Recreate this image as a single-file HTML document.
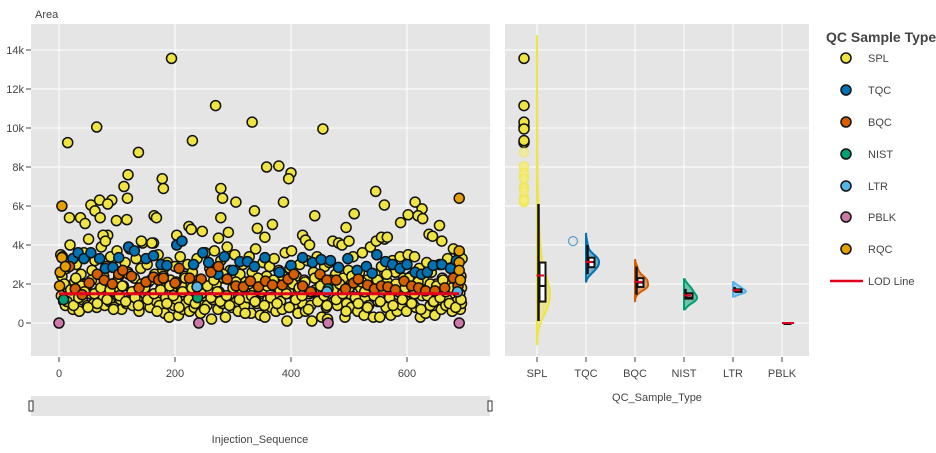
<!DOCTYPE html>
<html><head><meta charset="utf-8"><style>
html,body{margin:0;padding:0;background:#fff;}
svg{display:block;font-family:"Liberation Sans","DejaVu Sans",sans-serif;}
text{fill:#444;font-size:11px;}
</style></head><body>
<svg id="chart" width="936" height="453" xmlns="http://www.w3.org/2000/svg">
<rect x="0" y="0" width="936" height="453" fill="#fff"/>
<rect x="31" y="24" width="459" height="332" fill="#e5e5e5"/>
<rect x="505" y="24" width="304" height="332" fill="#e5e5e5"/>
<g id="grid"></g>
<g id="axes"></g>
<g id="scatter"></g>
<g id="violins"></g>
<text x="35" y="18" font-size="12">Area</text>
<text x="260" y="443" text-anchor="middle">Injection_Sequence</text>
<text x="657" y="401" text-anchor="middle">QC_Sample_Type</text>
<rect x="31" y="396" width="459" height="20" fill="#e5e5e5"/>
<rect x="29" y="401" width="4" height="10" fill="#fff" stroke="#333" stroke-width="1"/>
<rect x="488" y="401" width="4" height="10" fill="#fff" stroke="#333" stroke-width="1"/>
<g id="legend">
<text x="826" y="42" font-size="14" font-weight="bold" style="fill:#444;font-size:14px">QC Sample Type</text>
</g>
</svg>
<script>
const NS="http://www.w3.org/2000/svg";
const categories=["SPL","TQC","BQC","NIST","LTR","PBLK","RQC"];
const colors=["#f0e442","#0072b2","#d55e00","#009e73","#56b4e9","#cc79a7","#e69f00"];
const yTicks=[0,2,4,6,8,10,12,14];
const yTickLabels=["0","2k","4k","6k","8k","10k","12k","14k"];
const xTicks=[0,200,400,600];
const lodValue=1.5;
const lodRange=[0,690];
const splX=[3,5,8,11,13,16,19,21,24,27,30,32,35,38,40,43,46,49,51,54,
57,60,62,65,68,70,73,76,79,81,84,87,89,92,95,97,100,103,106,108,
111,114,116,119,122,125,127,130,133,135,138,141,144,146,149,152,154,157,160,163,
165,168,171,173,176,179,182,184,187,190,192,195,198,200,203,206,209,211,214,217,
219,222,225,227,230,233,236,238,241,244,246,249,252,255,257,260,263,265,268,271,
274,276,279,282,284,287,290,293,295,298,301,303,306,309,312,314,317,320,322,325,
328,331,333,336,339,341,344,347,350,352,355,358,360,363,366,369,371,374,377,379,
382,385,388,390,393,396,398,401,404,407,409,412,415,417,420,423,425,428,431,434,
436,439,442,445,447,450,453,455,458,461,463,466,469,472,474,477,480,482,485,488,
490,493,496,499,501,504,507,510,512,515,518,520,523,526,528,531,534,537,539,542,
545,547,550,553,556,558,561,564,566,569,572,575,577,580,583,585,588,591,594,596,
599,602,604,607,610,613,615,618,621,623,626,629,632,634,637,640,642,645,648,651,
653,656,659,661,664,667,670,672,675,678,680,683,686,688,690,692,693,694,694,695,
194,15,65,270,230,333,455,137,119,112,118,178,180,358,379,400,396,279,282,305,387,337,546,561,614,626,
18,37,45,55,70,91,84,62,71,99,117,164,168,279,203,224,228,247,275,292,342,368,355,441,495,509,589,602,619,627,656,638,644,660,76,80,142,160,420,425,432,556,566,500,
4,9,14,20,25,29,34,39,44,50,56,61,66,72,77,83,88,94,99,104,
109,115,120,126,131,137,142,148,153,158,164,169,175,180,186,191,197,202,207,213,
218,224,229,235,240,245,251,256,262,267,273,278,283,289,294,300,305,311,316,321,
327,332,338,343,349,354,359,365,370,376,381,386,392,397,403,408,414,419,424,430,
435,441,446,451,457,462,468,473,478,484,489,495,500,505,511,516,522,527,532,538,
543,549,554,559,565,570,576,581,586,592,597,603,608,613,619,624,630,635,640,646,
651,657,662,667,673,678,684,689,691,693];
const splY=[3.5,2.4,1.1,0.9,2.8,1.6,4.0,1.3,0.7,2.1,3.0,1.8,0.6,2.5,1.2,3.6,2.0,0.9,4.3,1.5,
2.7,1.0,3.2,0.8,2.2,1.7,3.9,1.4,0.9,2.9,4.5,1.1,3.4,2.0,0.8,1.6,3.7,2.4,1.2,0.7,
1.9,3.1,1.0,2.6,3.8,1.5,0.9,2.3,3.3,1.2,0.6,2.8,4.1,1.7,1.0,3.0,2.1,0.8,1.4,4.1,
2.5,1.1,3.5,0.9,1.8,2.7,0.5,1.3,3.1,0.3,2.2,1.6,0.9,2.9,1.2,0.4,3.4,1.9,0.7,2.4,
1.0,3.0,0.6,1.5,2.6,0.8,1.9,3.3,1.1,0.5,2.1,1.4,3.6,0.9,1.7,2.8,0.2,1.2,3.7,2.0,
0.7,1.6,3.2,1.0,2.3,0.3,3.9,1.4,2.7,0.8,1.9,3.5,1.1,0.6,2.5,1.7,3.0,0.9,2.1,1.3,
3.4,0.5,2.6,1.8,3.8,1.0,2.2,0.4,1.5,3.1,0.3,2.4,1.2,2.9,0.8,1.9,3.3,0.6,1.4,2.7,
1.1,0.7,2.0,3.6,0.1,1.6,2.8,3.7,0.9,1.3,2.4,0.5,3.0,1.8,1.0,2.2,0.6,3.2,1.5,0.9,
0.1,2.6,1.7,3.4,1.2,2.0,0.3,1.5,2.9,0.8,0.2,3.1,1.9,4.2,1.1,2.5,0.9,4.1,1.6,4.0,
2.3,0.3,1.0,2.7,1.5,0.8,3.4,2.0,1.2,0.6,2.6,1.8,3.6,0.4,1.3,2.2,0.9,3.9,1.6,0.3,
2.5,4.2,1.1,0.3,2.9,1.7,4.3,0.8,2.1,1.4,0.4,3.2,1.0,2.6,0.6,1.8,3.4,0.9,2.3,1.2,
0.6,3.5,1.6,2.4,1.0,3.4,0.8,1.9,2.8,0.3,1.4,2.2,0.5,3.1,1.7,0.9,2.6,1.1,0.4,2.0,
1.3,3.0,0.7,2.3,1.6,0.9,3.3,1.2,2.0,0.6,3.8,1.5,1.1,2.6,3.6,0.7,2.4,1.0,1.8,3.3,
13.57,9.25,10.05,11.15,9.35,10.3,9.95,8.75,7.6,7.0,6.4,7.4,6.9,8.0,8.05,7.7,7.4,6.9,6.4,6.2,6.2,5.75,6.75,6.05,6.2,5.85,
5.4,5.4,5.1,6.05,6.3,6.3,6.1,5.75,5.4,5.25,5.3,5.5,5.4,5.4,4.5,4.95,4.8,4.7,4.35,4.65,4.85,5.05,4.4,5.5,4.9,5.6,5.15,5.55,5.5,5.35,5.0,4.55,4.45,4.2,4.5,4.2,4.2,4.1,4.5,4.25,4.0,4.4,4.4,4.2,
1.4,2.0,1.1,1.7,0.9,2.3,1.3,1.9,1.6,0.8,2.2,1.5,1.0,1.8,2.4,1.2,1.7,0.7,2.1,1.4,
1.9,1.1,2.5,1.6,1.3,0.9,2.0,1.8,1.2,2.2,1.5,0.6,1.7,2.4,1.0,1.9,1.4,2.1,0.8,1.6,
2.3,1.2,1.8,1.0,2.0,1.5,0.7,1.9,1.3,2.2,1.6,1.1,2.5,1.4,0.9,1.8,2.1,1.2,1.7,0.5,
2.0,1.4,1.1,2.3,1.6,0.9,1.9,1.3,2.2,1.0,1.7,2.4,1.5,0.8,2.0,1.2,1.8,1.4,2.1,0.7,
1.6,2.3,1.1,1.9,1.4,0.9,2.2,1.7,1.2,2.0,1.5,0.6,1.8,2.4,1.3,1.0,2.1,1.6,0.8,1.9,
1.4,2.2,1.1,1.7,2.5,1.3,0.9,2.0,1.6,1.2,1.8,2.3,1.0,1.5,2.1,0.7,1.7,1.4,2.0,1.1,
1.9,1.3,2.2,1.6,1.0,1.8,0.8,2.1,1.5,1.2];
const tqcX=[6,24,33,43,55,70,80,93,103,120,130,150,163,176,186,203,212,232,248,258,274,285,300,312,325,337,355,380,400,420,437,452,468,482,498,514,530,540,548,563,575,588,600,614,625,635,645,660,675,685];
const tqcY=[3.4,3.3,3.6,3.3,3.6,3.3,2.8,2.85,3.35,3.9,3.7,3.3,3.45,3.0,2.95,4.0,4.2,3.0,3.6,3.1,2.5,3.4,2.7,3.15,3.15,2.9,3.35,2.6,2.95,3.35,3.1,3.25,3.2,2.85,3.3,2.7,2.9,2.55,3.5,3.15,3.0,2.8,3.0,2.6,2.5,2.6,2.95,3.0,2.8,3.2];
const bqcX=[18,28,40,52,66,78,92,103,110,125,138,150,163,172,180,200,207,225,245,262,275,290,305,318,330,344,356,368,385,395,405,420,434,450,462,478,494,508,516,532,544,556,567,580,595,608,620,632,648,665,680,688];
const bqcY=[2.9,1.75,1.45,2.05,2.5,2.2,2.0,2.5,2.7,2.4,1.8,2.1,2.35,2.2,2.3,2.05,2.8,2.3,2.25,2.6,2.9,2.25,1.9,1.85,2.15,1.85,2.15,1.95,1.95,2.25,2.5,1.9,1.6,2.5,2.2,2.2,1.75,2.05,2.25,1.95,1.75,1.9,1.85,1.7,2.15,1.9,1.8,1.65,1.65,1.8,2.3,1.9];
const nistX=[8,239,464];
const nistY=[1.2,1.3,1.75];
const ltrX=[238,462,687];
const ltrY=[1.85,1.6,1.6];
const pblkX=[0,241,464,690];
const pblkY=[0,0,0,0];
const rqcX=[5,5,2,1,11,690,690,690,690,692];
const rqcY=[6.0,3.35,2.6,1.9,2.9,6.4,3.7,3.1,2.7,2.2];

const seriesX=[splX,tqcX,bqcX,nistX,ltrX,pblkX,rqcX];
const seriesY=[splY,tqcY,bqcY,nistY,ltrY,pblkY,rqcY];

function yS(v){return 323-v*19.5;}
function xS(v){return 59+v*0.58;}
function cS(i){return 537+i*49;}

function mk(tag,attrs,parent){const e=document.createElementNS(NS,tag);for(const k in attrs)e.setAttribute(k,attrs[k]);parent.appendChild(e);return e;}
const grid=document.getElementById('grid'),axes=document.getElementById('axes');
yTicks.forEach((t,i)=>{
  const g1=mk('line',{x1:31,x2:490,y1:yS(t),y2:yS(t),stroke:'#fff','stroke-width':1},grid);
  
  
  const g2=mk('line',{x1:505,x2:809,y1:yS(t),y2:yS(t),stroke:'#fff','stroke-width':1},grid);
  
  
  const tk=mk('line',{x1:26,x2:31,y1:yS(t),y2:yS(t),stroke:'#444','stroke-width':1},axes);
  
  
  const tl=mk('text',{x:24,y:yS(t)+4,'text-anchor':'end'},axes);
  tl.textContent=yTickLabels[i];
  
  
});
xTicks.forEach(t=>{
  const g=mk('line',{x1:xS(t),x2:xS(t),y1:24,y2:356,stroke:'#fff','stroke-width':1},grid);
  
  
  const tk=mk('line',{x1:xS(t),x2:xS(t),y1:357,y2:362,stroke:'#444','stroke-width':1},axes);
  
  
  const tl=mk('text',{x:xS(t),y:377,'text-anchor':'middle'},axes);
  tl.textContent=String(t);
  
  
});
categories.slice(0,6).forEach((c,i)=>{
  const g=mk('line',{x1:cS(i),x2:cS(i),y1:24,y2:356,stroke:'#fff','stroke-width':1},grid);
  
  
  const tk=mk('line',{x1:cS(i),x2:cS(i),y1:357,y2:362,stroke:'#444','stroke-width':1},axes);
  
  
  const tl=mk('text',{x:cS(i),y:377,'text-anchor':'middle'},axes);
  tl.textContent=c;
  
  
});

const sc=document.getElementById('scatter');
seriesX.forEach((xs,s)=>{
  xs.forEach((x,j)=>{
    const c=mk('circle',{cx:xS(x),cy:yS(seriesY[s][j]),r:5,fill:colors[s],stroke:'#111','stroke-width':1.5},sc);
    
    
  });
});
const lod=mk('line',{x1:xS(lodRange[0]),x2:xS(lodRange[1]),y1:yS(lodValue),y2:yS(lodValue),stroke:'#e3001b','stroke-width':3},sc);



const vg=document.getElementById('violins');
function quant(a,p){const b=a.slice().sort((m,n)=>m-n);const pos=(b.length-1)*p;const lo=Math.floor(pos),hi=Math.ceil(pos);return b[lo]+(b[hi]-b[lo])*(pos-lo);}
for(let i=0;i<6;i++){
  const vals=seriesY[i];const n=vals.length;const cx=cS(i);
  const mean=vals.reduce((a,b)=>a+b,0)/n;
  const sd=Math.sqrt(vals.reduce((a,b)=>a+(b-mean)*(b-mean),0)/Math.max(1,n-1));
  const q1=quant(vals,0.25),q3=quant(vals,0.75),med=quant(vals,0.5),iqr=q3-q1;
  const inl=vals.filter(v=>v>=q1-1.5*iqr&&v<=q3+1.5*iqr);
  const lo=Math.min(...inl),hi=Math.max(...inl);
  if(sd>0){
    const bw=1.06*sd*Math.pow(n,-0.2);
    const y0=Math.min(...vals)-2*bw,y1=Math.max(...vals)+2*bw;
    const pts=[];let mx=0;
    for(let k=0;k<=120;k++){const y=y0+(y1-y0)*k/120;let d=0;vals.forEach(v=>{const z=(y-v)/bw;d+=Math.exp(-0.5*z*z);});pts.push([y,d]);if(d>mx)mx=d;}
    let p='M'+cx+','+yS(y0);
    pts.forEach(([y,d])=>{p+=' L'+(cx+d/mx*13).toFixed(1)+','+yS(y).toFixed(1);});
    p+=' L'+cx+','+yS(y1)+' Z';
    const v=mk('path',{d:p,fill:colors[i],'fill-opacity':0.5,stroke:colors[i],'stroke-width':2},vg);
    
    
  }
  const w=mk('line',{x1:cx+1.5,x2:cx+1.5,y1:yS(lo),y2:yS(hi),stroke:'#111','stroke-width':2.5},vg);
  
  
  const bx=mk('rect',{x:cx+2.5,y:yS(q3),width:6,height:Math.max(1,yS(q1)-yS(q3)),fill:'#fff',stroke:'#111','stroke-width':2},vg);
  
  
  const md=mk('line',{x1:cx+2.5,x2:cx+8.5,y1:yS(med),y2:yS(med),stroke:'#111','stroke-width':2},vg);
  
  
  const mn=mk('line',{x1:cx+(sd>0?-0.5:0),x2:cx+(sd>0?7:12),y1:yS(mean),y2:yS(mean),stroke:'#e3001b','stroke-width':2},vg);
  
  
  vals.forEach(v=>{
    if(v>q3+1.5*iqr||v<q1-1.5*iqr){
      const strong=v>q3+3*iqr;
      const o=mk('circle',{cx:cx-13,cy:yS(v),r:strong?5:4.5,fill:strong?colors[i]:(i===0?'#f5ec7a':'none'),'fill-opacity':strong?1:0.6,stroke:strong?'#111':colors[i],'stroke-width':strong?1.5:1.2,'stroke-opacity':strong?1:0.6},vg);
      
      
    }
  });
}

const lg=document.getElementById('legend');
const legendY=[58,90,122,154,186,217,249];
categories.forEach((c,i)=>{
  const m=mk('circle',{cx:846,cy:legendY[i],r:5,fill:colors[i],stroke:'#111','stroke-width':1.5},lg);
  
  
  const t=mk('text',{x:868,y:legendY[i]+4},lg);
  t.textContent=c;
  
  
});
const ll=mk('line',{x1:830,x2:863,y1:281,y2:281,stroke:'#e3001b','stroke-width':2.5},lg);


const lt=mk('text',{x:868,y:285},lg);
lt.textContent='LOD Line';


</script>
</body></html>
